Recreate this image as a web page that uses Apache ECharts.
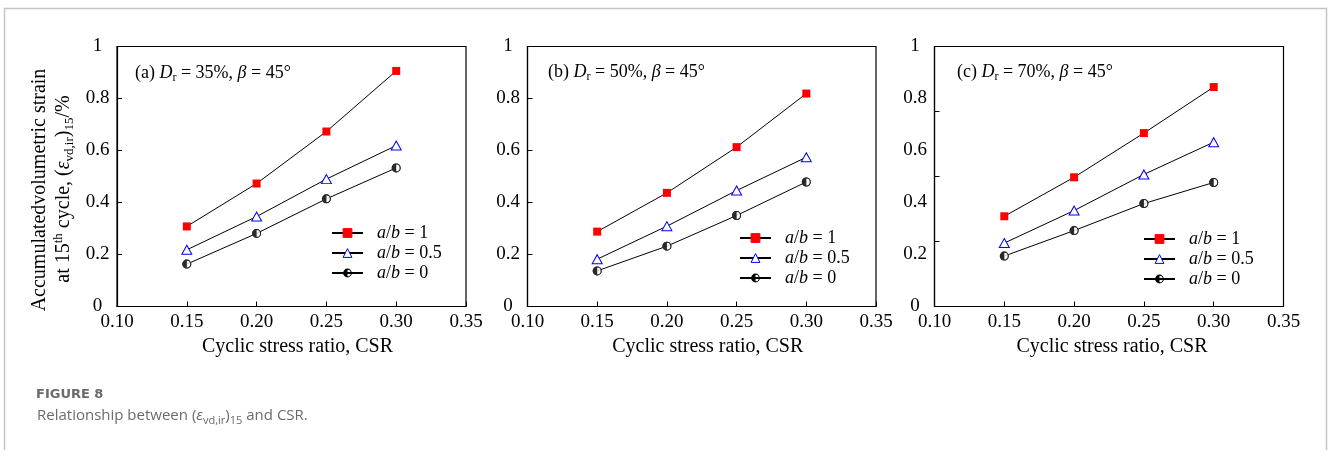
<!DOCTYPE html>
<html>
<head>
<meta charset="utf-8">
<script src="https://cdn.jsdelivr.net/npm/echarts@6/dist/echarts.min.js"></script>
<style>
  html, body { margin: 0; padding: 0; background: #fff; }
  #chart { width: 1328px; height: 450px; }
</style>
</head>
<body>
<div id="chart"></div>
<script>
// Cyclic stress ratio tested
const csr = [0.15, 0.20, 0.25, 0.30];
// Legend names (loading shape ratio a/b)
const seriesNames = ['a/b = 1', 'a/b = 0.5', 'a/b = 0'];
const ratioText = ['1', '0.5', '0'];
// Panel tags and relative densities
const panelTags = ['(a)', '(b)', '(c)'];
const relDensity = ['35%', '50%', '70%'];
const beta = '45°';

// Accumulated volumetric strain at 15th cycle (%), Dr = 35%
const dr35_ab1  = [0.308, 0.473, 0.673, 0.906];
const dr35_ab05 = [0.218, 0.346, 0.490, 0.619];
const dr35_ab0  = [0.163, 0.281, 0.414, 0.533];
// Dr = 50%
const dr50_ab1  = [0.288, 0.437, 0.613, 0.819];
const dr50_ab05 = [0.182, 0.309, 0.446, 0.574];
const dr50_ab0  = [0.137, 0.232, 0.350, 0.479];
// Dr = 70%
const dr70_ab1  = [0.347, 0.497, 0.667, 0.844];
const dr70_ab05 = [0.244, 0.369, 0.508, 0.632];
const dr70_ab0  = [0.194, 0.292, 0.396, 0.477];

const panelData = [
  [dr35_ab1, dr35_ab05, dr35_ab0],
  [dr50_ab1, dr50_ab05, dr50_ab0],
  [dr70_ab1, dr70_ab05, dr70_ab0]
];

const SERIF = 'Liberation Serif';
// ring + left half disc (nonzero winding leaves the right half open)
const HALF_DISC = 'path://M50 0A50 50 0 1 1 50 100A50 50 0 1 1 50 0Z' +
  'M50 12A38 38 0 1 0 50 88A38 38 0 1 0 50 12Z' +
  'M50 88A38 38 0 0 1 50 12Z';

const grids = [
  { left: 117,   top: 46.5, width: 349,   height: 260 },
  { left: 527.5, top: 46.5, width: 348.5, height: 260 },
  { left: 934.5, top: 46.5, width: 349,   height: 260 }
];
const legendPos = [[331, 223], [739, 228], [1143, 229]];
const tagPos = [[135, 73], [548, 72], [957, 72]];
const xNamePad = [12, 12, 6];

const option = {
  animation: false,
  backgroundColor: '#fff',
  textStyle: { fontFamily: SERIF, color: '#000' },
  grid: grids.map(g => Object.assign({
    show: true, borderColor: '#000', borderWidth: 1.2,
    backgroundColor: 'transparent', containLabel: false, outerBoundsMode: 'none'
  }, g)),
  xAxis: [],
  yAxis: [],
  legend: [],
  series: [],
  graphic: []
};

const tickRich = { t: { fontFamily: SERIF, fontSize: 19, color: '#000', lineHeight: 20 } };

for (let p = 0; p < 3; p++) {
  option.xAxis.push({
    type: 'value', gridIndex: p, min: 0.10, max: 0.35, interval: 0.05,
    name: 'Cyclic stress ratio, CSR', nameLocation: 'middle', nameGap: 28,
    nameTextStyle: { fontFamily: SERIF, fontSize: 20, color: '#000', padding: [0, 0, 0, xNamePad[p]] },
    axisLine: { show: true, onZero: false, lineStyle: { color: '#000', width: 1.2 } },
    axisTick: { show: true, inside: true, length: 5, lineStyle: { color: '#000', width: 1 } },
    axisLabel: {
      margin: 6, fontFamily: SERIF, fontSize: 19, color: '#000',
      formatter: v => '{t|' + v.toFixed(2) + '}', rich: tickRich
    },
    splitLine: { show: false }
  });
  option.yAxis.push({
    type: 'value', gridIndex: p, position: 'left', min: 0, max: 1, interval: 0.2,
    axisLine: { show: true, onZero: false, lineStyle: { color: '#000', width: 1.2 } },
    axisTick: { show: p !== 2, inside: true, length: 5, lineStyle: { color: '#000', width: 1 } },
    axisLabel: {
      margin: 19.5, align: 'center', fontFamily: SERIF, fontSize: 19, color: '#000',
      formatter: v => '{t|' + (v === 0 ? '0' : v === 1 ? '1' : v.toFixed(1)) + '}',
      rich: tickRich
    },
    splitLine: { show: false }
  });
}
// third panel carries its left-side ticks at quarter steps
option.yAxis.push({
  type: 'value', gridIndex: 2, position: 'left', offset: 0, min: 0, max: 1, interval: 0.25,
  axisLine: { show: false },
  axisTick: { show: true, inside: true, length: 5, lineStyle: { color: '#000', width: 1 } },
  axisLabel: { show: false },
  splitLine: { show: false }
});

const styles = [
  { symbol: 'rect', symbolSize: 8,
    itemStyle: { color: '#ff0000', borderColor: '#ff0000', borderWidth: 0 } },
  { symbol: 'triangle', symbolSize: [10, 9],
    itemStyle: { color: '#ffffff', borderColor: '#0000ff', borderWidth: 1 } },
  { symbol: HALF_DISC, symbolSize: 9,
    itemStyle: { color: '#000000', borderColor: 'transparent', borderWidth: 0 } }
];

for (let p = 0; p < 3; p++) {
  for (let s = 0; s < 3; s++) {
    const vals = panelData[p][s];
    option.series.push(Object.assign({
      type: 'line', name: seriesNames[s], xAxisIndex: p, yAxisIndex: p,
      data: csr.map((x, i) => [x, vals[i]]),
      showSymbol: true, showAllSymbol: true, z: 2,
      lineStyle: { color: '#000', width: 1 },
      emphasis: { disabled: true }, silent: true
    }, styles[s]));
  }
  // a/b = 0 markers: white underlay then half-filled disc
  const v0 = panelData[p][2];
  option.series.push({
    type: 'scatter', name: 'ab0-base-' + p, xAxisIndex: p, yAxisIndex: p,
    data: csr.map((x, i) => [x, v0[i]]), symbol: 'circle', symbolSize: 8.5, z: 3,
    itemStyle: { color: '#fff' }, silent: true, emphasis: { disabled: true }
  });
  option.series.push({
    type: 'scatter', name: 'ab0-mark-' + p, xAxisIndex: p, yAxisIndex: p,
    data: csr.map((x, i) => [x, v0[i]]), symbol: HALF_DISC, symbolSize: 9, z: 4,
    itemStyle: { color: '#000' }, silent: true, emphasis: { disabled: true }
  });

  option.legend.push({
    left: legendPos[p][0], top: legendPos[p][1], orient: 'vertical',
    padding: 0, itemGap: 0, itemWidth: 31, itemHeight: 11,
    selectedMode: false, data: seriesNames,
    itemStyle: { borderWidth: 1 },
    formatter: name => '{i|a}{n|/}{i|b}{n| = ' + ratioText[seriesNames.indexOf(name)] + '}',
    textStyle: {
      fontFamily: SERIF, fontSize: 18, color: '#000',
      padding: [0, 0, 0, 9], lineHeight: 20,
      rich: {
        i: { fontFamily: SERIF, fontSize: 18, fontStyle: 'italic', color: '#000', lineHeight: 20 },
        n: { fontFamily: SERIF, fontSize: 18, color: '#000', lineHeight: 20 }
      }
    }
  });

  option.graphic.push({
    type: 'text', x: tagPos[p][0], y: tagPos[p][1], silent: true,
    style: {
      text: '{n|' + panelTags[p] + ' }{i|D}{sub|r}{n| = ' + relDensity[p] + ', }{i|β}{n| = ' + beta + '}',
      align: 'left', verticalAlign: 'middle',
      rich: {
        n: { fontFamily: SERIF, fontSize: 18, fill: '#000', lineHeight: 22 },
        i: { fontFamily: SERIF, fontSize: 18, fontStyle: 'italic', fill: '#000', lineHeight: 22 },
        sub: { fontFamily: SERIF, fontSize: 12, fill: '#000', lineHeight: 13, verticalAlign: 'bottom' }
      }
    }
  });
}

// shared y-axis title (two lines)
option.graphic.push({
  type: 'text', x: 40, y: 190, rotation: Math.PI / 2, silent: true,
  style: {
    text: 'Accumulatedvolumetric strain', fontFamily: SERIF, fontSize: 20,
    fill: '#000', align: 'center', verticalAlign: 'middle'
  }
});
option.graphic.push({
  type: 'text', x: 64, y: 189, rotation: Math.PI / 2, silent: true,
  style: {
    text: '{n|at 15}{sup|th}{n| cycle, (}{i|ε}{sub|vd,ir}{n|)}{sub|15}{n|/%}',
    align: 'center', verticalAlign: 'middle',
    rich: {
      n: { fontFamily: SERIF, fontSize: 20, fill: '#000', lineHeight: 24 },
      i: { fontFamily: SERIF, fontSize: 20, fontStyle: 'italic', fill: '#000', lineHeight: 24 },
      sup: { fontFamily: SERIF, fontSize: 13, fill: '#000', lineHeight: 13, verticalAlign: 'top' },
      sub: { fontFamily: SERIF, fontSize: 13, fill: '#000', lineHeight: 13, verticalAlign: 'bottom' }
    }
  }
});

// page frame
option.graphic.push({
  type: 'polyline', silent: true,
  shape: { points: [[4.5, 450], [4.5, 8.5], [1326.5, 8.5], [1326.5, 450]] },
  style: { stroke: '#c4c4c4', lineWidth: 1.5, fill: null }
});

// caption
option.graphic.push({
  type: 'text', x: 36, y: 395, silent: true,
  style: {
    text: 'FIGURE 8', fontFamily: 'DejaVu Sans', fontWeight: 'bold', fontSize: 13,
    fill: '#6b6b6b', align: 'left', verticalAlign: 'middle'
  }
});
option.graphic.push({
  type: 'text', x: 37, y: 416, silent: true,
  style: {
    text: '{n|Relationship between (}{i|ε}{sub|vd,ir}{n|)}{sub|15}{n| and CSR.}',
    align: 'left', verticalAlign: 'middle',
    rich: {
      n: { fontFamily: 'Open Sans', fontSize: 15, fill: '#6b6b6b', lineHeight: 20 },
      i: { fontFamily: 'Open Sans', fontSize: 15, fontStyle: 'italic', fill: '#6b6b6b', lineHeight: 20 },
      sub: { fontFamily: 'Open Sans', fontSize: 11, fill: '#6b6b6b', lineHeight: 12, verticalAlign: 'bottom' }
    }
  }
});

const chart = echarts.init(document.getElementById('chart'), null, { renderer: 'canvas' });
chart.setOption(option);
</script>
</body>
</html>
